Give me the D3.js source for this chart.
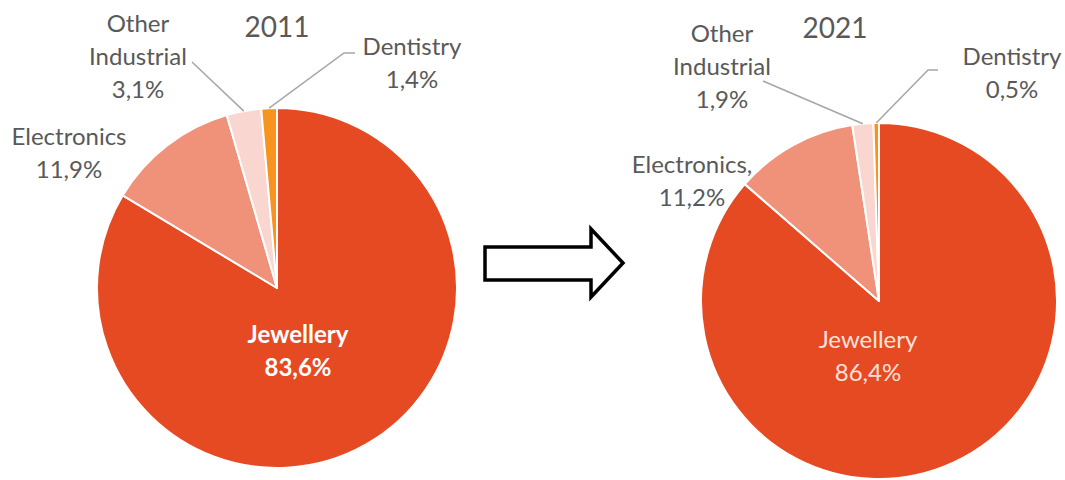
<!DOCTYPE html>
<html>
<head>
<meta charset="utf-8">
<script src="https://cdn.jsdelivr.net/npm/d3@7"></script>
<style>
  body { margin: 0; background: #fff; }
  svg { display: block; }
</style>
</head>
<body>
<div id="chart"></div>
<script>
// Shares of gold demand, in percent (comma decimals as in the source)
const categories = ["Jewellery", "Electronics", "Other Industrial", "Dentistry"];
const values2011 = [83.6, 11.9, 3.1, 1.4];
const values2021 = [86.4, 11.2, 1.9, 0.5];
const years = ["2011", "2021"];

const COLORS = {
    "Jewellery": "#e64a23",
    "Electronics": "#f0917a",
    "Other Industrial": "#f9d6cf",
    "Dentistry": "#f7941d"
};
const TEXT_GREY = "#595959";
const LEADER_GREY = "#a6a6a6";
const FONT = "Lato, 'Open Sans', sans-serif";

const width = 1065, height = 480;

const svg = d3.select("#chart")
    .append("svg")
    .attr("width", width)
    .attr("height", height);

// Pie placements and hand-placed label boxes (Excel-style manual layout)
const pies = [
    {
        year: years[0], values: values2011, cx: 277, cy: 288, r: 180,
        title: {x: 277, y: 37},
        inner: {x: 298, y: 343, bold: true, fill: "#ffffff"},
        labels: {
            "Electronics": {x: 69, y: 145, lines: ["Electronics"]},
            "Other Industrial": {x: 138, y: 32, lines: ["Other", "Industrial"], leader: [[192, 62]]},
            "Dentistry": {x: 412, y: 55, lines: ["Dentistry"], leader: [[355, 53], [344, 53]]}
        }
    },
    {
        year: years[1], values: values2021, cx: 879, cy: 301, r: 178,
        title: {x: 835, y: 38},
        inner: {x: 868, y: 348, bold: false, fill: "#fde2da"},
        labels: {
            "Electronics": {x: 692, y: 173, lines: ["Electronics,"]},
            "Other Industrial": {x: 722, y: 42, lines: ["Other", "Industrial"], leader: [[763, 81]]},
            "Dentistry": {x: 1012, y: 65, lines: ["Dentistry"], leader: [[938, 70], [928, 70]]}
        }
    }
];

const fmt = v => d3.format(".1f")(v).replace(".", ",") + "%";
const LINE_H = 33;

const pie = d3.pie().sort(null).value(d => d.value);

pies.forEach(p => {
    const data = categories.map((c, i) => ({category: c, value: p.values[i]}));
    const arcs = pie(data);
    const arc = d3.arc().innerRadius(0).outerRadius(p.r);

    const g = svg.append("g")
        .attr("transform", `translate(${p.cx},${p.cy})`);

    g.selectAll("path.slice")
        .data(arcs)
        .enter()
        .append("path")
        .attr("class", "slice")
        .attr("d", arc)
        .attr("fill", d => COLORS[d.data.category])
        .attr("stroke", "#ffffff")
        .attr("stroke-width", 2)
        .attr("stroke-linejoin", "round");

    // Year title
    svg.append("text")
        .attr("x", p.title.x)
        .attr("y", p.title.y)
        .attr("text-anchor", "middle")
        .attr("font-family", FONT)
        .attr("font-size", 28)
        .attr("fill", TEXT_GREY)
        .text(p.year);

    // Leader lines from slice edge to label
    arcs.forEach(a => {
        const lab = p.labels[a.data.category];
        if (!lab || !lab.leader) return;
        const mid = (a.startAngle + a.endAngle) / 2;
        const edge = [p.cx + p.r * Math.sin(mid), p.cy - p.r * Math.cos(mid)];
        const pts = [edge].concat(lab.leader.slice().reverse());
        svg.append("path")
            .attr("d", d3.line()(pts))
            .attr("fill", "none")
            .attr("stroke", LEADER_GREY)
            .attr("stroke-width", 1.5);
    });

    // Outside labels
    arcs.forEach(a => {
        const lab = p.labels[a.data.category];
        if (!lab) return;
        const t = svg.append("text")
            .attr("text-anchor", "middle")
            .attr("font-family", FONT)
            .attr("font-size", 24)
            .attr("fill", TEXT_GREY);
        lab.lines.concat([fmt(a.data.value)]).forEach((line, i) => {
            t.append("tspan")
                .attr("x", lab.x)
                .attr("y", lab.y + i * LINE_H)
                .text(line);
        });
    });

    // Inside label for the largest slice
    const big = arcs[0];
    const t = svg.append("text")
        .attr("text-anchor", "middle")
        .attr("font-family", FONT)
        .attr("font-size", 24)
        .attr("font-weight", p.inner.bold ? "bold" : "normal")
        .attr("fill", p.inner.fill);
    [big.data.category, fmt(big.data.value)].forEach((line, i) => {
        t.append("tspan")
            .attr("x", p.inner.x)
            .attr("y", p.inner.y + i * LINE_H)
            .text(line);
    });
});

// Block arrow between the two pies
const arrow = [[485, 247], [591, 247], [591, 229], [623, 263], [591, 297], [591, 280], [485, 280]];
svg.append("path")
    .attr("d", d3.line()(arrow) + "Z")
    .attr("fill", "#ffffff")
    .attr("stroke", "#000000")
    .attr("stroke-width", 3.5)
    .attr("stroke-linejoin", "miter");
</script>
</body>
</html>
